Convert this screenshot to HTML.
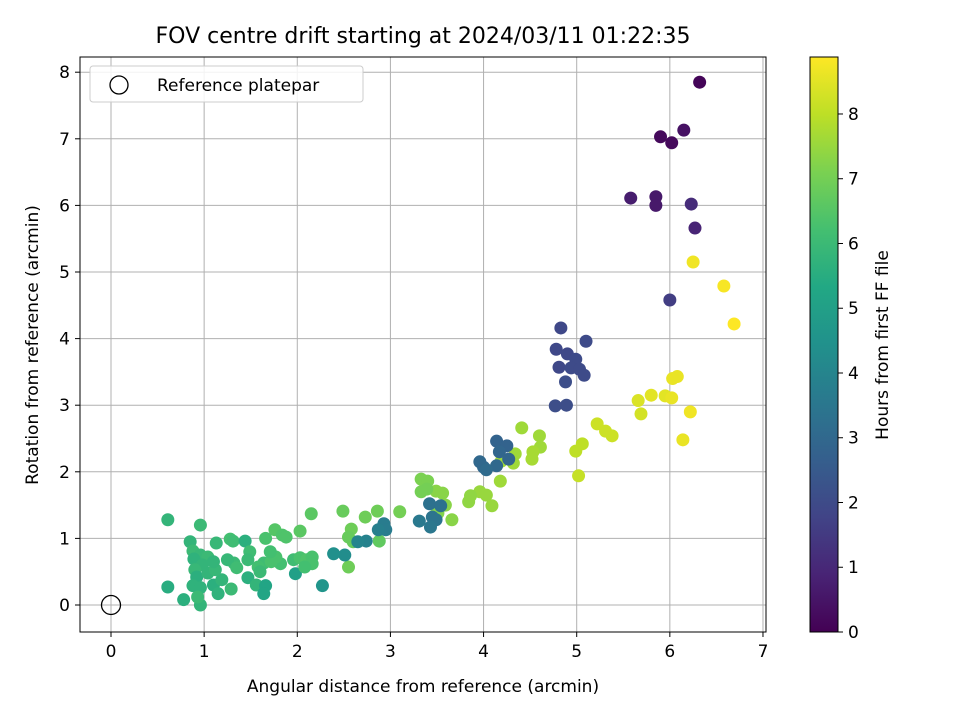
<!DOCTYPE html>
<html><head><meta charset="utf-8"><style>
body{margin:0;background:#fff;font-family:"Liberation Sans",sans-serif}
svg text{font-family:"DejaVu Sans","Liberation Sans",sans-serif}
</style></head><body>
<svg id="c" width="960" height="720" xmlns="http://www.w3.org/2000/svg">
<defs><linearGradient id="vir" x1="0" y1="1" x2="0" y2="0">
<stop offset="0" stop-color="#440154"/><stop offset="0.1" stop-color="#482475"/><stop offset="0.2" stop-color="#414487"/><stop offset="0.3" stop-color="#355f8d"/><stop offset="0.4" stop-color="#2a788e"/><stop offset="0.5" stop-color="#21918c"/><stop offset="0.6" stop-color="#22a884"/><stop offset="0.7" stop-color="#44bf70"/><stop offset="0.8" stop-color="#7ad151"/><stop offset="0.9" stop-color="#bddf26"/><stop offset="1" stop-color="#fde725"/>
</linearGradient></defs>
<text x="423" y="43" font-size="22" text-anchor="middle">FOV centre drift starting at 2024/03/11 01:22:35</text>
<g id="grid"></g><g id="pts"></g>
<rect x="80" y="57" width="686" height="575" fill="none" stroke="#000" stroke-width="1"/>
<g id="ticks"></g>
<text x="423" y="692" font-size="17" text-anchor="middle">Angular distance from reference (arcmin)</text>
<text transform="translate(38,345) rotate(-90)" font-size="17" text-anchor="middle">Rotation from reference (arcmin)</text>
<g>
<rect x="90" y="66" width="273" height="36" rx="3" fill="#fff" fill-opacity="0.85" stroke="#ccc"/>
<circle cx="119" cy="85" r="9" fill="none" stroke="#000" stroke-width="1.3"/>
<text x="157" y="91" font-size="17">Reference platepar</text>
</g>
<rect x="810" y="57" width="28" height="575" fill="url(#vir)" stroke="#000" stroke-width="1"/>
<g id="cbt"></g>
<text transform="translate(888,345) rotate(-90)" font-size="17" text-anchor="middle">Hours from first FF file</text>
</svg>
<script>
const xs=[6.32,5.9,6.15,6.02,5.58,5.85,5.85,6.23,6.27,6.0,
4.83,4.78,5.1,4.9,4.99,4.81,4.94,5.03,5.08,4.88,4.77,4.89,
6.25,6.58,6.69,6.08,6.03,5.8,5.95,6.02,5.66,5.69,6.22,6.14,5.22,5.31,5.38,5.06,4.99,5.02,
4.41,4.6,4.61,4.53,4.52,4.34,4.32,4.19,4.18,4.03,3.96,4.09,3.86,3.84,3.56,3.49,3.59,3.66,3.51,3.48,
3.33,3.4,3.39,3.33,3.1,2.86,2.73,2.58,2.55,2.6,2.88,2.49,2.55,
4.14,4.25,4.17,4.27,4.14,3.96,4.0,4.03,3.42,3.54,3.45,3.49,3.43,3.31,2.93,2.95,2.87,2.74,2.65,2.51,2.39,2.27,
0.61,0.61,0.96,1.28,1.31,1.13,1.44,0.85,0.88,0.96,1.04,0.89,0.98,0.9,0.92,0.88,0.96,0.78,0.96,0.93,1.1,1.15,1.19,1.04,1.12,1.32,1.25,1.1,1.29,1.47,1.56,1.64,1.58,1.6,1.66,1.64,1.82,1.66,1.76,1.84,1.49,1.47,1.35,1.98,1.96,2.03,2.1,2.16,2.15,2.03,1.88,1.77,1.72,2.16,2.08,1.71];
const ys=[7.85,7.03,7.13,6.94,6.11,6.13,6.0,6.02,5.66,4.58,
4.16,3.84,3.96,3.77,3.69,3.57,3.56,3.54,3.45,3.35,2.99,3.0,
5.15,4.79,4.22,3.43,3.4,3.15,3.14,3.11,3.07,2.87,2.9,2.48,2.72,2.61,2.54,2.42,2.31,1.94,
2.66,2.54,2.37,2.3,2.19,2.27,2.13,2.16,1.86,1.65,1.7,1.49,1.64,1.55,1.68,1.71,1.5,1.28,1.38,1.35,
1.89,1.86,1.74,1.7,1.4,1.41,1.32,1.14,1.02,0.95,0.96,1.41,0.57,
2.46,2.39,2.3,2.19,2.09,2.15,2.07,2.03,1.52,1.49,1.32,1.28,1.17,1.26,1.22,1.13,1.13,0.96,0.95,0.75,0.77,0.29,
1.28,0.27,1.2,0.99,0.96,0.93,0.96,0.95,0.81,0.75,0.72,0.69,0.6,0.53,0.42,0.29,0.26,0.08,0,0.12,0.3,0.17,0.38,0.48,0.53,0.63,0.68,0.65,0.24,0.41,0.3,0.63,0.57,0.5,0.29,0.17,0.62,1.0,1.13,1.05,0.8,0.68,0.56,0.47,0.68,0.71,0.68,0.72,1.37,1.11,1.02,0.72,0.65,0.62,0.57,0.8];
const hours=[0.1,0.2,0.4,0.2,0.7,0.6,0.6,1.1,0.9,1.6,
1.9,1.9,2.0,1.9,2.0,1.9,2.0,2.0,2.0,2.1,2.1,2.1,
8.7,8.8,8.9,8.6,8.6,8.5,8.5,8.6,8.4,8.3,8.7,8.6,8.2,8.2,8.2,8.0,8.0,8.1,
7.6,7.6,7.6,7.7,7.7,7.6,7.6,7.6,7.6,7.5,7.5,7.5,7.4,7.4,7.3,7.3,7.3,7.3,7.2,7.2,
7.1,7.1,7.0,7.0,7.0,6.9,6.9,6.9,6.8,6.8,6.7,6.8,6.9,
2.8,2.8,2.9,2.9,3.0,3.0,3.0,3.1,3.3,3.3,3.4,3.4,3.5,3.6,3.7,3.7,3.8,3.9,4.0,4.3,4.4,4.6,
5.8,5.5,6.0,6.2,6.1,5.9,5.6,5.8,6.0,5.9,6.0,5.7,5.8,5.9,5.6,5.7,5.7,5.6,5.8,6.0,5.6,5.7,5.8,5.8,5.9,6.0,5.9,5.8,6.0,5.6,5.8,6.1,6.2,6.0,5.2,5.2,6.2,6.3,6.5,6.4,6.1,6.0,6.1,5.0,6.1,6.3,6.4,6.3,6.6,6.6,6.4,6.3,6.3,6.3,6.2,6.2];
const xTicks=[0,1,2,3,4,5,6,7], yTicks=[0,1,2,3,4,5,6,7,8], cTicks=[0,1,2,3,4,5,6,7,8];
const X=v=>111+v*93.14, Y=v=>605-v*66.6, CMAX=8.88, C=v=>632-v*575/CMAX;
const stops=["#440154","#482475","#414487","#355f8d","#2a788e","#21918c","#22a884","#44bf70","#7ad151","#bddf26","#fde725"].map(h=>[1,3,5].map(i=>parseInt(h.substr(i,2),16)));
function vir(h){let t=Math.max(0,Math.min(1,h/CMAX))*10,i=Math.min(9,Math.floor(t)),f=t-i;const a=stops[i],b=stops[i+1];return `rgb(${a.map((v,k)=>Math.round(v+(b[k]-v)*f)).join(',')})`;}
const NS="http://www.w3.org/2000/svg";
function mk(tag,attrs,parent,txt){const e=document.createElementNS(NS,tag);for(const k in attrs)e.setAttribute(k,attrs[k]);if(txt!==undefined)e.textContent=txt;document.getElementById(parent).appendChild(e);return e;}
xTicks.forEach(v=>{
 const g=mk('line',{x1:X(v),x2:X(v),y1:57,y2:632,stroke:'#b0b0b0','stroke-width':1},'grid');
 
 
 const t=mk('line',{x1:X(v),x2:X(v),y1:632,y2:637,stroke:'#000'},'ticks');
 
 
 const l=mk('text',{x:X(v),y:657,'font-size':17,'text-anchor':'middle'},'ticks',String(v));
 
 
});
yTicks.forEach(v=>{
 const g=mk('line',{x1:80,x2:766,y1:Y(v),y2:Y(v),stroke:'#b0b0b0','stroke-width':1},'grid');
 
 
 const t=mk('line',{x1:75,x2:80,y1:Y(v),y2:Y(v),stroke:'#000'},'ticks');
 
 
 const l=mk('text',{x:70,y:Y(v)+6,'font-size':17,'text-anchor':'end'},'ticks',String(v));
 
 
});
cTicks.forEach(v=>{
 const t=mk('line',{x1:838,x2:843,y1:C(v),y2:C(v),stroke:'#000'},'cbt');
 
 
 const l=mk('text',{x:848,y:C(v)+6,'font-size':17},'cbt',String(v));
 
 
});
xs.forEach((x,i)=>{
 const p=mk('circle',{cx:X(x),cy:Y(ys[i]),r:6.5,fill:vir(hours[i])},'pts');
 
 
});
const r=mk('circle',{cx:X(0),cy:Y(0),r:9.5,fill:'none',stroke:'#000','stroke-width':1.3},'pts');


</script>
</body></html>
